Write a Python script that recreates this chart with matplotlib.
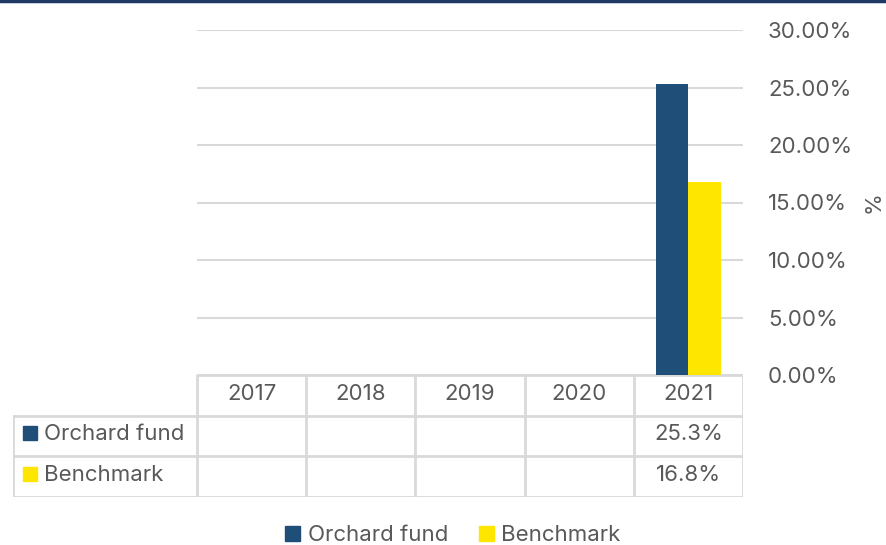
import numpy as np
import matplotlib.pyplot as plt
from matplotlib.patches import Patch, Rectangle

plt.rcParams["font.family"] = ["Inter", "DejaVu Sans"]

years = ["2017", "2018", "2019", "2020", "2021"]
series = ["Orchard fund", "Benchmark"]
fund = [np.nan, np.nan, np.nan, np.nan, 25.3]
bench = [np.nan, np.nan, np.nan, np.nan, 16.8]
colors = ["#1f4e79", "#ffe600"]
yticks = [0, 5, 10, 15, 20, 25, 30]

W, H = 887, 545
fig = plt.figure(figsize=(W / 100, H / 100), dpi=100)
text_color = "#595959"
grid_color = "#d9d9d9"
fs = 16

# thin navy line at the very top
fig.add_artist(plt.Line2D([0, 1], [1 - 1 / H, 1 - 1 / H], color="#1f3864", lw=2.5))

# main plot area
px_l, px_r, px_t, px_b = 197, 743, 30, 375
ax = fig.add_axes([px_l / W, 1 - px_b / H, (px_r - px_l) / W, (px_b - px_t) / H])
x = np.arange(len(years))
bw = 0.295
ax.bar(x - bw / 2, fund, bw, color=colors[0], zorder=3)
ax.bar(x + bw / 2, bench, bw, color=colors[1], zorder=3)
ax.set_xlim(-0.5, len(years) - 0.5)
ax.set_ylim(0, 30)
ax.set_yticks(yticks)
ax.set_yticklabels([f"{v:.2f}%" for v in yticks], fontsize=fs, color=text_color)
ax.yaxis.tick_right()
ax.tick_params(axis="y", length=0, pad=18)
ax.set_xticks([])
ax.grid(axis="y", color=grid_color, lw=1.5, zorder=0)
for s in ax.spines.values():
    s.set_visible(False)
ax.yaxis.set_label_position("right")
ax.set_ylabel("%", fontsize=fs, color=text_color, rotation=90, labelpad=8)

# data table below the plot
tbl_l, tbl_b = 13, 497
cat_w = (px_r - px_l) / len(years)
left_cols = (px_l - tbl_l) / cat_w
tax = fig.add_axes([tbl_l / W, 1 - tbl_b / H, (px_r - tbl_l) / W, (tbl_b - px_b) / H])
tax.set_xlim(-0.5 - left_cols, len(years) - 0.5)
tax.set_ylim(3, 0)
tax.axis("off")
lc = dict(color=grid_color, lw=2, solid_capstyle="projecting")
# horizontal lines
tax.plot([-0.5, len(years) - 0.5], [0, 0], **lc)
for r in [1, 2, 3]:
    tax.plot([-0.5 - left_cols, len(years) - 0.5], [r, r], **lc)
# vertical lines
tax.plot([-0.5 - left_cols] * 2, [1, 3], **lc)
for i in range(len(years) + 1):
    tax.plot([i - 0.5] * 2, [0, 3], **lc)
for i, yr in enumerate(years):
    tax.text(i, 0.47, yr, ha="center", va="center", fontsize=fs, color=text_color)
for r, (name, vals, c) in enumerate(zip(series, [fund, bench], colors), start=1):
    sq_x = -0.5 - left_cols + 10 / cat_w
    tax.add_patch(Rectangle((sq_x, r + 0.6), 14 / cat_w, -14 / 40, color=c))
    tax.text(sq_x + 21 / cat_w, r + 0.45, name, ha="left", va="center",
             fontsize=fs, color=text_color)
    for i, v in enumerate(vals):
        if not np.isnan(v):
            tax.text(i, r + 0.45, f"{v:.1f}%", ha="center", va="center",
                     fontsize=fs, color=text_color)

# legend at the bottom
handles = [Patch(color=c, label=s) for s, c in zip(series, colors)]
fig.legend(handles=handles, loc="center", bbox_to_anchor=(453 / W, 1 - 535 / H),
           ncol=2, frameon=False, fontsize=fs, handlelength=0.65, handleheight=0.65,
           handletextpad=0.35, columnspacing=1.4, labelcolor=text_color)

fig.savefig("out.png", dpi=100)
